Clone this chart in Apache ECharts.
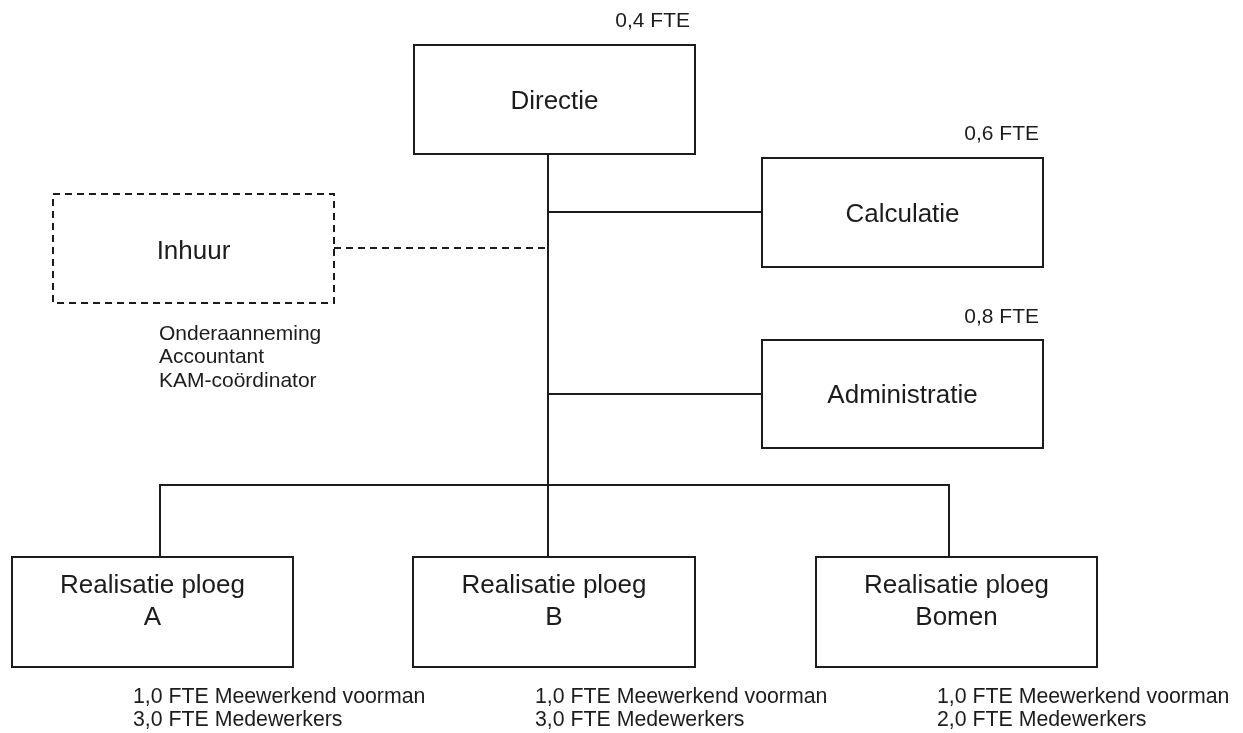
<!DOCTYPE html>
<html><head><meta charset="utf-8">
<script src="https://cdn.jsdelivr.net/npm/echarts@6/dist/echarts.min.js"></script>
<style>html,body{margin:0;padding:0;background:#fff;}#chart{width:1243px;height:733px;}</style>
</head><body><div id="chart"></div>
<script>
// ---- data ----
const units = ['Directie', 'Calculatie', 'Administratie', 'Inhuur',
  'Realisatie ploeg\nA', 'Realisatie ploeg\nB', 'Realisatie ploeg\nBomen'];
const unitFTE = ['0,4 FTE', '0,6 FTE', '0,8 FTE'];
const hiredRoles = ['Onderaanneming', 'Accountant', 'KAM-coördinator'];
const ploegStaff = [
  ['1,0 FTE Meewerkend voorman', '3,0 FTE Medewerkers'],
  ['1,0 FTE Meewerkend voorman', '3,0 FTE Medewerkers'],
  ['1,0 FTE Meewerkend voorman', '2,0 FTE Medewerkers']
];

// ---- layout (units of the hidden axes) ----
const boxLayout = [[414,45,695,154],[762,158,1043,267],[762,340,1043,448],[53,194,334,303],
  [12,557,293,667],[413,557,695,667],[816,557,1097,667]];
const boxDashed = [false,false,false,true,false,false,false];
const labelOffset = [2,2,2,3,-10,-10,-10];
const ftePos = [[690,21],[1039,134],[1039,317]];
const hiredPos = [159,334,23.5];          // x, first line y, line step
const staffPos = [[133,697],[535,697],[937,697]];
const staffStep = 23;
const connectors = [
  {pts:[[548,154],[548,485]], dashed:false},
  {pts:[[548,212],[762,212]], dashed:false},
  {pts:[[548,394],[762,394]], dashed:false},
  {pts:[[334,248],[548,248]], dashed:true},
  {pts:[[160,557],[160,485],[949,485],[949,557]], dashed:false},
  {pts:[[548,485],[548,557]], dashed:false}
];

const INK = '#1c1c1c';
const FONT = '"Liberation Sans", Arial, sans-serif';

const chart = echarts.init(document.getElementById('chart'), null, {renderer:'canvas'});
chart.setOption({
  backgroundColor:'#ffffff',
  animation:false,
  grid:{left:0,right:0,top:0,bottom:0},
  xAxis:{type:'value',min:0,max:1243,show:false},
  yAxis:{type:'value',min:0,max:733,inverse:true,show:false},
  series:[
    { // connectors
      type:'custom', coordinateSystem:'cartesian2d', silent:true, clip:false,
      data: connectors.map((c,i)=>[c.pts[0][0], c.pts[0][1], i]),
      renderItem:(params, api)=>{
        const c = connectors[params.dataIndex];
        return {type:'polyline', shape:{points:c.pts.map(p=>api.coord(p))},
          style:{stroke:INK, lineWidth:2, fill:null, lineDash:c.dashed?[7,5]:null}};
      }
    },
    { // boxes with labels
      type:'custom', coordinateSystem:'cartesian2d', silent:true, clip:false,
      data: units.map((u,i)=>[boxLayout[i][0], boxLayout[i][1], i]),
      renderItem:(params, api)=>{
        const i = params.dataIndex, b = boxLayout[i];
        const p0 = api.coord([b[0],b[1]]), p1 = api.coord([b[2],b[3]]);
        const x = Math.min(p0[0],p1[0]), y = Math.min(p0[1],p1[1]);
        const w = Math.abs(p1[0]-p0[0]), h = Math.abs(p1[1]-p0[1]);
        return {type:'group', children:[
          {type:'rect', shape:{x:x,y:y,width:w,height:h},
            style:{fill:'#ffffff', stroke:INK, lineWidth:2, lineDash:boxDashed[i]?[7,5]:null}},
          {type:'text', x:x+w/2, y:y+h/2+labelOffset[i],
            style:{text:units[i], font:'26px '+FONT, fill:INK, align:'center', verticalAlign:'middle', lineHeight:32}}
        ]};
      }
    },
    { // FTE labels above boxes
      type:'custom', coordinateSystem:'cartesian2d', silent:true, clip:false,
      data: unitFTE.map((t,i)=>[ftePos[i][0], ftePos[i][1], i]),
      renderItem:(params, api)=>{
        const i = params.dataIndex, p = api.coord(ftePos[i]);
        return {type:'text', x:p[0], y:p[1],
          style:{text:unitFTE[i], font:'21px '+FONT, fill:INK, align:'right', verticalAlign:'middle'}};
      }
    },
    { // hired roles
      type:'custom', coordinateSystem:'cartesian2d', silent:true, clip:false,
      data: hiredRoles.map((r,i)=>[hiredPos[0], hiredPos[1]+i*hiredPos[2], i]),
      renderItem:(params, api)=>{
        const i = params.dataIndex;
        const p = api.coord([hiredPos[0], hiredPos[1]+i*hiredPos[2]]);
        return {type:'text', x:p[0], y:p[1],
          style:{text:hiredRoles[i], font:'21px '+FONT, fill:INK, align:'left', verticalAlign:'middle'}};
      }
    },
    { // staff per ploeg
      type:'custom', coordinateSystem:'cartesian2d', silent:true, clip:false,
      data: ploegStaff.map((s,i)=>[staffPos[i][0], staffPos[i][1], i]),
      renderItem:(params, api)=>{
        const i = params.dataIndex;
        return {type:'group', children: ploegStaff[i].map((line,k)=>{
          const p = api.coord([staffPos[i][0], staffPos[i][1]+k*staffStep]);
          return {type:'text', x:p[0], y:p[1],
            style:{text:line, font:'21.3px '+FONT, fill:INK, align:'left', verticalAlign:'middle'}};
        })};
      }
    }
  ]
});
</script>
</body></html>
